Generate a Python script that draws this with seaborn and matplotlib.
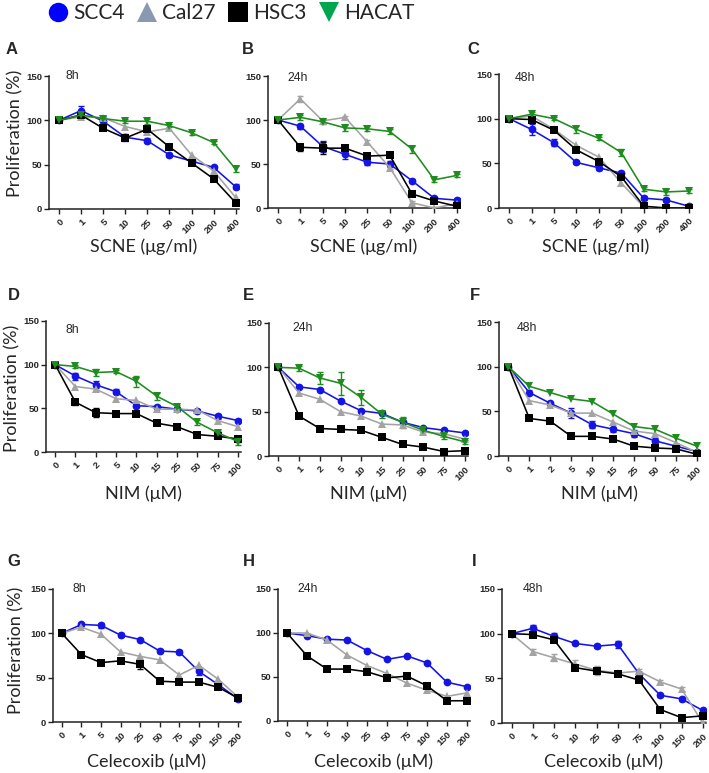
import numpy as np
import pandas as pd
import matplotlib
matplotlib.use("Agg")
import matplotlib.pyplot as plt
from matplotlib.lines import Line2D
import seaborn as sns

sns.set_theme(style="ticks")
plt.rcParams['font.family'] = ['Liberation Sans', 'DejaVu Sans']

# ---------------- data ----------------
scne_doses = ["0", "1", "5", "10", "25", "50", "100", "200", "400"]
nim_doses = ["0", "1", "2", "5", "10", "15", "25", "50", "75", "100"]
cele_doses = ["0", "1", "5", "10", "25", "50", "75", "100", "150", "200"]

# Panel A: SCNE 8h
a_scc4 = [100, 111, 99, 81, 77, 61, 54, 47, 25]
a_cal27 = [100, 104, 103, 93, 87, 91, 61, 43, 13]
a_hsc3 = [100, 106, 91, 80, 90, 70, 52, 34, 7]
a_hacat = [100, 106, 102, 99, 99, 94, 86, 75, 45]
a_scc4_err = [0, 5, 6, 4, 3, 2, 2, 2, 3]
a_hacat_err = [0, 2, 2, 2, 3, 2, 2, 2, 3]

# Panel B: SCNE 24h
b_scc4 = [100, 93, 70, 61, 52, 50, 31, 11, 9]
b_cal27 = [100, 124, 99, 103, 75, 46, 6, 0, 5]
b_hsc3 = [100, 69, 68, 68, 59, 60, 16, 8, 2]
b_hacat = [100, 103, 98, 91, 90, 87, 67, 32, 37]
b_scc4_err = [0, 3, 6, 5, 3, 3, 2, 2, 2]
b_cal27_err = [0, 3, 2, 2, 2, 2, 2, 1, 1]
b_hsc3_err = [0, 4, 7, 2, 2, 2, 2, 2, 2]
b_hacat_err = [0, 3, 2, 3, 3, 3, 4, 2, 2]

# Panel C: SCNE 48h
c_scc4 = [100, 88, 73, 51, 45, 39, 11, 9, 2]
c_cal27 = [100, 103, 88, 70, 57, 28, 1, 0, 0]
c_hsc3 = [100, 99, 87, 65, 52, 35, 2, 0, 0]
c_hacat = [100, 105, 100, 88, 78, 62, 21, 18, 19]
c_scc4_err = [0, 6, 4, 2, 3, 2, 2, 2, 3]
c_hacat_err = [0, 3, 2, 4, 2, 4, 2, 3, 2]

# Panel D: NIM 8h
d_scc4 = [100, 87, 77, 69, 53, 52, 49, 47, 41, 36]
d_cal27 = [100, 75, 72, 61, 59, 49, 49, 48, 36, 29]
d_hsc3 = [100, 57, 45, 44, 44, 33, 29, 20, 18, 15]
d_hacat = [100, 98, 91, 92, 81, 64, 52, 34, 22, 12]
d_scc4_err = [0, 4, 4, 3, 2, 2, 2, 2, 3, 2]
d_hsc3_err = [0, 3, 5, 3, 2, 2, 2, 3, 2, 3]
d_hacat_err = [0, 2, 4, 2, 6, 4, 2, 3, 2, 4]

# Panel E: NIM 24h
e_scc4 = [100, 78, 75, 62, 51, 48, 38, 32, 29, 26]
e_cal27 = [100, 71, 64, 50, 45, 36, 35, 27, 25, 19]
e_hsc3 = [100, 45, 31, 30, 29, 21, 13, 10, 5, 6]
e_hacat = [100, 99, 88, 82, 66, 47, 38, 29, 22, 16]
e_hacat_err = [0, 3, 7, 13, 8, 4, 6, 2, 3, 2]

# Panel F: NIM 48h
f_scc4 = [100, 71, 59, 48, 35, 30, 25, 17, 11, 5]
f_cal27 = [100, 62, 57, 48, 48, 38, 28, 25, 15, 4]
f_hsc3 = [100, 42, 39, 22, 22, 19, 11, 9, 8, 2]
f_hacat = [100, 78, 71, 64, 61, 47, 33, 30, 20, 11]
f_scc4_err = [0, 3, 2, 6, 4, 3, 4, 3, 2, 2]

# Panel G: Celecoxib 8h
g_scc4 = [100, 110, 109, 98, 93, 80, 79, 57, 42, 26]
g_cal27 = [100, 107, 99, 79, 74, 70, 53, 64, 48, 28]
g_hsc3 = [100, 76, 67, 69, 65, 46, 45, 45, 39, 27]
g_scc4_err = [0, 2, 3, 2, 2, 2, 2, 4, 2, 2]
g_hsc3_err = [0, 2, 2, 2, 5, 2, 2, 2, 2, 2]

# Panel H: Celecoxib 24h
h_scc4 = [100, 97, 93, 92, 80, 70, 74, 66, 44, 39]
h_cal27 = [100, 100, 92, 75, 63, 54, 43, 35, 28, 32]
h_hsc3 = [100, 74, 59, 59, 56, 49, 51, 40, 23, 23]

# Panel I: Celecoxib 48h
i_scc4 = [100, 106, 97, 89, 86, 88, 55, 31, 27, 14]
i_cal27 = [100, 80, 73, 66, 59, 56, 58, 46, 38, 0]
i_hsc3 = [100, 99, 93, 62, 58, 55, 48, 15, 6, 8]
i_scc4_err = [0, 4, 4, 2, 2, 4, 2, 2, 2, 2]
i_cal27_err = [0, 3, 4, 4, 5, 2, 2, 2, 2, 2]

cell_lines = ["SCC4", "Cal27", "HSC3", "HACAT"]
time_labels = ["8h", "24h", "48h"]
x_titles = ["SCNE (\u03bcg/ml)", "NIM (\u03bcM)", "Celecoxib (\u03bcM)"]
panel_letters = ["A", "B", "C", "D", "E", "F", "G", "H", "I"]

# ---------------- styles ----------------
line_colors = {"SCC4": "#1414e6", "Cal27": "#a3a3a3", "HSC3": "#000000", "HACAT": "#1e8c1e"}
legend_colors = {"SCC4": "#0000ff", "Cal27": "#8b98b2", "HSC3": "#000000", "HACAT": "#00a54f"}
markers = {"SCC4": "o", "Cal27": "^", "HSC3": "s", "HACAT": "v"}

panels = [
    (scne_doses, [a_scc4, a_cal27, a_hsc3, a_hacat], [a_scc4_err, None, None, a_hacat_err]),
    (scne_doses, [b_scc4, b_cal27, b_hsc3, b_hacat], [b_scc4_err, b_cal27_err, b_hsc3_err, b_hacat_err]),
    (scne_doses, [c_scc4, c_cal27, c_hsc3, c_hacat], [c_scc4_err, None, None, c_hacat_err]),
    (nim_doses, [d_scc4, d_cal27, d_hsc3, d_hacat], [d_scc4_err, None, d_hsc3_err, d_hacat_err]),
    (nim_doses, [e_scc4, e_cal27, e_hsc3, e_hacat], [None, None, None, e_hacat_err]),
    (nim_doses, [f_scc4, f_cal27, f_hsc3, f_hacat], [f_scc4_err, None, None, None]),
    (cele_doses, [g_scc4, g_cal27, g_hsc3], [g_scc4_err, None, g_hsc3_err]),
    (cele_doses, [h_scc4, h_cal27, h_hsc3], [None, None, None]),
    (cele_doses, [i_scc4, i_cal27, i_hsc3], [i_scc4_err, i_cal27_err, None]),
]

# axes boxes in pixels: left, right, top, bottom
W, H = 709, 773
boxes = [
    (49, 239, 76, 209), (268, 460, 76, 208), (499, 692, 74, 208),
    (46, 241, 321, 452), (269, 468, 323, 456), (499, 700, 322, 456),
    (53, 241, 589, 722), (278, 470, 589, 721), (502, 706, 589, 723),
]
letter_pos = [(12, 49), (248, 49), (473, 49), (14, 295), (248, 295), (475, 295),
              (14, 562), (249, 562), (474, 562)]
time_pos = [(72, 76), (298, 78), (525, 78), (72, 330), (303, 328), (527, 328),
            (79, 589), (308, 589), (533, 589)]
xlabel_y = [247, 247, 247, 494, 494, 494, 762, 762, 762]
ylabel_pos = [(15, 133), (12, 388), (16, 650)]

fig = plt.figure(figsize=(W / 100, H / 100), dpi=100)

for k, (doses, series, errs) in enumerate(panels):
    l, r, t, b = boxes[k]
    ax = fig.add_axes([l / W, 1 - b / H, (r - l) / W, (b - t) / H])
    pos = np.arange(len(doses))
    for name, vals, err in zip(cell_lines, series, errs):
        df = pd.DataFrame({"pos": pos, "val": vals})
        if err is not None:
            ax.errorbar(df["pos"], df["val"], yerr=err, fmt="none",
                        ecolor=line_colors[name], elinewidth=1.0, capsize=2.2,
                        capthick=1.0, zorder=2)
        sns.lineplot(data=df, x="pos", y="val", ax=ax, color=line_colors[name],
                     marker=markers[name], markersize=5.6, markeredgewidth=0,
                     linewidth=1.15, zorder=3)
    ax.set_xlim(-0.45, len(doses) - 1 + 0.15)
    ax.set_ylim(0, 150)
    ax.set_yticks([0, 50, 100, 150])
    ax.set_xticks(pos)
    ax.set_xticklabels(doses, rotation=45, ha="right", rotation_mode="anchor",
                       fontsize=6.8, fontweight="bold")
    for lab in ax.get_yticklabels():
        lab.set_fontsize(6.8)
        lab.set_fontweight("bold")
    ax.tick_params(axis="both", direction="out", length=3.5, width=1.0,
                   color="#222222", pad=1.5)
    ax.tick_params(axis="x", pad=2.5)
    sns.despine(ax=ax)
    for sp in ["left", "bottom"]:
        ax.spines[sp].set_linewidth(1.1)
        ax.spines[sp].set_color("#222222")
    ax.set_ylabel("")
    row = k // 3
    ax.set_xlabel(x_titles[row], fontsize=13, family=["Lato", "DejaVu Sans"],
                  va="center")
    ax.xaxis.set_label_coords(0.5, -(xlabel_y[k] - b) / (b - t))
    if k % 3 == 0:
        ax.set_ylabel("Proliferation (%)", fontsize=13, family=["Lato", "DejaVu Sans"],
                      va="center")
        yx, yy = ylabel_pos[row]
        ax.yaxis.set_label_coords(-(l - yx) / (r - l), (b - yy) / (b - t))
    tx, ty = time_pos[k]
    ax.text((tx - l) / (r - l), (b - ty) / (b - t), time_labels[k % 3],
            transform=ax.transAxes, ha="center", va="center", fontsize=8.8)
    lx, ly = letter_pos[k]
    fig.text(lx / W, 1 - ly / H, panel_letters[k], ha="center", va="center",
             fontsize=12, fontweight="bold")

handles = [Line2D([], [], linestyle="none", marker=markers[n], color=legend_colors[n],
                  markersize=14, markeredgewidth=0) for n in cell_lines]
leg = fig.legend(handles, cell_lines, loc="center left", bbox_to_anchor=(44 / W, 1 - 13 / H),
                 ncol=4, frameon=False, handletextpad=0.1, columnspacing=0.4,
                 handlelength=1.3, borderpad=0, borderaxespad=0,
                 prop={"family": ["Lato", "DejaVu Sans"], "size": 15})

fig.savefig("out.png", dpi=100)
